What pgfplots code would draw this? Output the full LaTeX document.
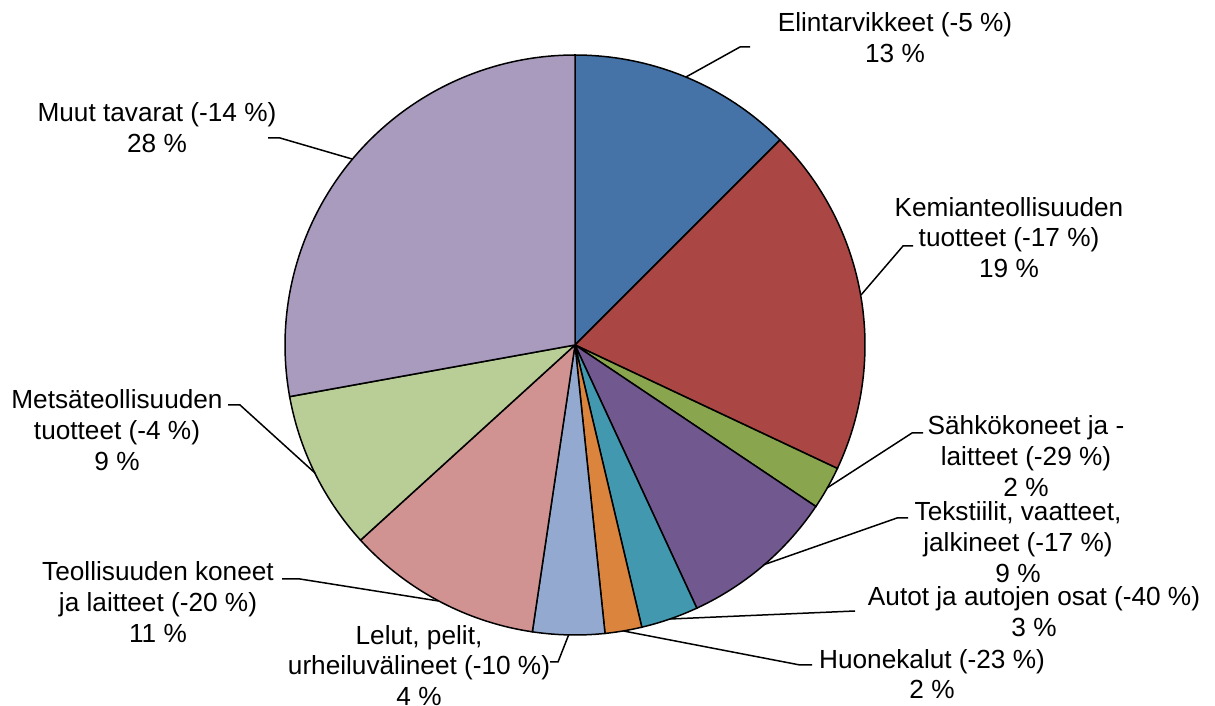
\documentclass[border=0pt]{standalone}
\usepackage{pgfplots}
\pgfplotsset{compat=1.18}
\usepackage{fontspec}
\setmainfont{Liberation Sans}
\definecolor{c1}{HTML}{4572A7}
\definecolor{c2}{HTML}{AA4643}
\definecolor{c3}{HTML}{89A54E}
\definecolor{c4}{HTML}{71588F}
\definecolor{c5}{HTML}{4198AF}
\definecolor{c6}{HTML}{DB843D}
\definecolor{c7}{HTML}{93A9CF}
\definecolor{c8}{HTML}{D19392}
\definecolor{c9}{HTML}{B9CD96}
\definecolor{c10}{HTML}{A99BBD}
\tikzset{lbl/.style={align=center, inner sep=0pt, font=\fontsize{13.1}{15.4}\selectfont}}
\begin{document}
\begin{tikzpicture}
\begin{axis}[hide axis, scale only axis, width=607.5pt, height=353pt,
  xmin=0, xmax=1215, ymin=0, ymax=706, clip=false,
  every axis plot/.append style={line width=0.75pt, draw=black}]
% slices: shares (%) 12.5, 19.5, 2.4, 8.7, 3.2, 2.05, 4.0, 10.9, 8.9, 27.85 (clockwise from top)
\addplot[fill=c1, domain=45:90, samples=40] ({575+290*cos(x)},{361+290*sin(x)}) -- (575,361) -- cycle;
\addplot[fill=c2, domain=-25.2:45, samples=60] ({575+290*cos(x)},{361+290*sin(x)}) -- (575,361) -- cycle;
\addplot[fill=c3, domain=-33.84:-25.2, samples=12] ({575+290*cos(x)},{361+290*sin(x)}) -- (575,361) -- cycle;
\addplot[fill=c4, domain=-65.16:-33.84, samples=30] ({575+290*cos(x)},{361+290*sin(x)}) -- (575,361) -- cycle;
\addplot[fill=c5, domain=-76.68:-65.16, samples=14] ({575+290*cos(x)},{361+290*sin(x)}) -- (575,361) -- cycle;
\addplot[fill=c6, domain=-84.06:-76.68, samples=10] ({575+290*cos(x)},{361+290*sin(x)}) -- (575,361) -- cycle;
\addplot[fill=c7, domain=-98.46:-84.06, samples=16] ({575+290*cos(x)},{361+290*sin(x)}) -- (575,361) -- cycle;
\addplot[fill=c8, domain=-137.7:-98.46, samples=36] ({575+290*cos(x)},{361+290*sin(x)}) -- (575,361) -- cycle;
\addplot[fill=c9, domain=-169.74:-137.7, samples=30] ({575+290*cos(x)},{361+290*sin(x)}) -- (575,361) -- cycle;
\addplot[fill=c10, domain=-270:-169.74, samples=80] ({575+290*cos(x)},{361+290*sin(x)}) -- (575,361) -- cycle;
% leader lines
\addplot[line width=0.75pt] coordinates {(686,629) (740,659) (750,659)};
\addplot[line width=0.75pt] coordinates {(861,411) (903,460) (913,460)};
\addplot[line width=0.75pt] coordinates {(827,218) (912,273) (923,273)};
\addplot[line width=0.75pt] coordinates {(763,141) (897,188) (908,188)};
\addplot[line width=0.75pt] coordinates {(670,87) (855,95)};
\addplot[line width=0.75pt] coordinates {(623.5,75) (800,41) (812,41)};
\addplot[line width=0.75pt] coordinates {(568.6,71) (558,44) (550,44)};
\addplot[line width=0.75pt] coordinates {(438.5,105) (300,127) (282,127)};
\addplot[line width=0.75pt] coordinates {(315,233) (240,301) (228,301)};
\addplot[line width=0.75pt] coordinates {(352,547) (280,568) (268,568)};
% labels
\node[lbl] at (axis cs:895,668.5) {Elintarvikkeet (-5 \%)\\13 \%};
\node[lbl] at (axis cs:1009,468.5) {Kemianteollisuuden\\tuotteet (-17 \%)\\19 \%};
\node[lbl] at (axis cs:1026,250) {Sähkökoneet ja -\\laitteet (-29 \%)\\2 \%};
\node[lbl] at (axis cs:1018,164) {Tekstiilit, vaatteet,\\jalkineet (-17 \%)\\9 \%};
\node[lbl] at (axis cs:1034,94) {Autot ja autojen osat (-40 \%)\\3 \%};
\node[lbl] at (axis cs:932,32) {Huonekalut (-23 \%)\\2 \%};
\node[lbl] at (axis cs:419,40.5) {Lelut, pelit,\\urheiluvälineet (-10 \%)\\4 \%};
\node[lbl] at (axis cs:158,104) {Teollisuuden koneet\\ja laitteet (-20 \%)\\11 \%};
\node[lbl] at (axis cs:117,276) {Metsäteollisuuden\\tuotteet (-4 \%)\\9 \%};
\node[lbl] at (axis cs:157,578) {Muut tavarat (-14 \%)\\28 \%};
\end{axis}
\pgfresetboundingbox
\path (current axis.south west) rectangle (current axis.north east);
\end{tikzpicture}
\end{document}
